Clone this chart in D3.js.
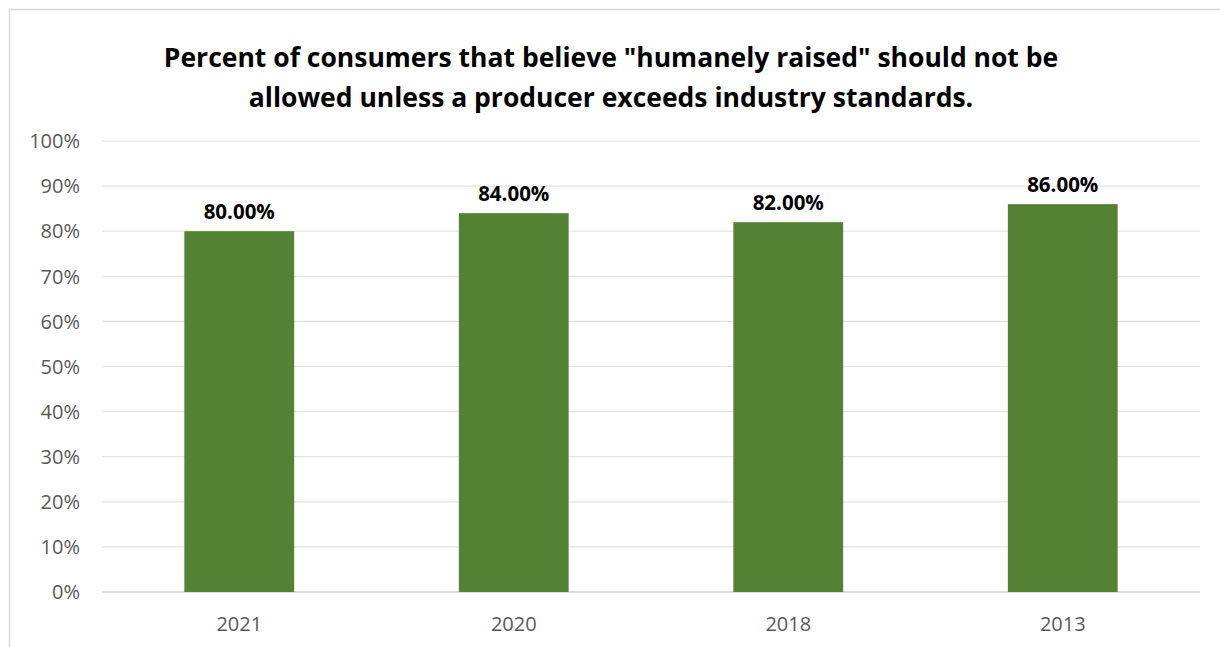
<html>
<head>
<script src="https://d3js.org/d3.v7.min.js"></script>
<style>
  body { margin: 0; background: #fff; }
  text { font-family: "Open Sans", sans-serif; }
</style>
</head>
<body>
<script>
var years = ["2021", "2020", "2018", "2013"];
var values = [0.80, 0.84, 0.82, 0.86];
var yTicks = [0, 0.1, 0.2, 0.3, 0.4, 0.5, 0.6, 0.7, 0.8, 0.9, 1.0];
var titleLines = ["Percent of consumers that believe \"humanely raised\" should not be",
                  "allowed unless a producer exceeds industry standards."];

var W = 1220, H = 647;
var plot = {left: 102, right: 1200, top: 141, bottom: 592};

var svg = d3.select("body").append("svg")
    .attr("width", W)
    .attr("height", H);

// chart frame
svg.append("rect")
    .attr("x", 9.5).attr("y", 9.5)
    .attr("width", W + 10).attr("height", H + 10)
    .style("fill", "#fff")
    .style("stroke", "#d9d9d9")
    .style("stroke-width", "1.5px");

var x = d3.scaleBand()
    .domain(years)
    .range([plot.left, plot.right])
    .paddingInner(0.6)
    .paddingOuter(0.3);

var y = d3.scaleLinear()
    .domain([0, 1])
    .range([plot.bottom, plot.top]);

// gridlines
svg.append("g").selectAll("line")
    .data(yTicks)
    .enter()
    .append("line")
    .attr("x1", plot.left).attr("x2", plot.right)
    .attr("y1", d => y(d)).attr("y2", d => y(d))
    .style("stroke", d => d === 0 ? "#d0d0d0" : "#e3e3e3")
    .style("stroke-width", d => d === 0 ? "1.5px" : "1.2px");

// y tick labels
svg.append("g").selectAll("text")
    .data(yTicks)
    .enter()
    .append("text")
    .attr("x", 80)
    .attr("y", d => y(d))
    .attr("dy", "0.36em")
    .attr("text-anchor", "end")
    .style("font-size", "20px")
    .style("fill", "#595959")
    .text(d => d3.format(".0%")(d));

// bars
svg.append("g").selectAll("rect")
    .data(values)
    .enter()
    .append("rect")
    .attr("x", (d, i) => x(years[i]))
    .attr("width", x.bandwidth())
    .attr("y", d => y(d))
    .attr("height", d => y(0) - y(d))
    .style("fill", "#548235");

// data labels
svg.append("g").selectAll("text")
    .data(values)
    .enter()
    .append("text")
    .attr("x", (d, i) => x(years[i]) + x.bandwidth() / 2)
    .attr("y", d => y(d) - 12)
    .attr("text-anchor", "middle")
    .style("font-size", "20.5px")
    .style("font-weight", "bold")
    .style("fill", "#000")
    .text(d => d3.format(".2%")(d));

// x labels
svg.append("g").selectAll("text")
    .data(years)
    .enter()
    .append("text")
    .attr("x", d => x(d) + x.bandwidth() / 2)
    .attr("y", 631)
    .attr("text-anchor", "middle")
    .style("font-size", "20px")
    .style("fill", "#595959")
    .text(d => d);

// title
svg.append("g").selectAll("text")
    .data(titleLines)
    .enter()
    .append("text")
    .attr("x", 611)
    .attr("y", (d, i) => 67 + i * 40)
    .attr("text-anchor", "middle")
    .style("font-size", "26.5px")
    .style("font-weight", "bold")
    .style("fill", "#000")
    .text(d => d);
</script>
</body>
</html>
